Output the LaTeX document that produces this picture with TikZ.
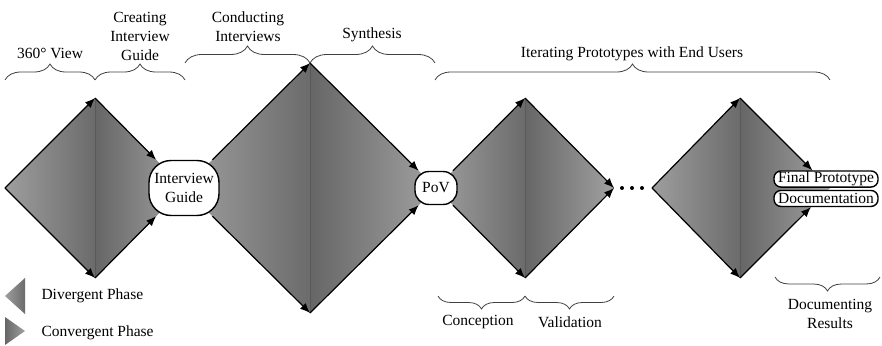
\documentclass[tikz,border=0pt]{standalone}
\usepackage{fontspec}
\setmainfont{Liberation Serif}
\usepackage{tikz}
\usetikzlibrary{
  positioning, arrows.meta, decorations.pathreplacing, shapes.misc
}
\tikzset{
	flow/.style={line width=1.2pt, -{Latex[length=10pt,width=8pt]}}
}
\tikzset{
	divshade/.style={left color=black!38, right color=black!58}
}
\tikzset{
	convshade/.style={left color=black!60, right color=black!37}
}
\tikzset{
	bubble/.style={draw, line width=1.4pt, fill=white, rounded corners=#1, inner sep=1pt, align=center},
	bubble/.default=7pt
}
\tikzset{
	curly/.style={decorate, decoration={brace, amplitude=#1}, line width=0.8pt, draw=black!75}
}

\begin{document}
\begin{tikzpicture}[x=1pt, y=-1pt, font=\fontsize{15.5}{19}\selectfont]
      \useasboundingbox (0,0) rectangle (882,345);
      % diamonds: left x / middle x / right x / half height
      \foreach \l/\m/\r/\h [count=\i] in {5/95/184/90, 184/310/436/125, 436/525/614/90, 652/740/830/90} {
        \shade[divshade] (\l,188) -- (\m,188-\h) -- (\m,188+\h) -- cycle;
        \shade[convshade] (\m,188-\h) -- (\r,188) -- (\m,188+\h) -- cycle;
        \draw[black!65, line width=0.7pt] (\m,188-\h) -- (\m,188+\h);
        \coordinate (l\i) at (\l,188);
        \coordinate (t\i) at (\m,188-\h);
        \coordinate (b\i) at (\m,188+\h);
        \coordinate (r\i) at (\r,188);
      }
      % outcome nodes
      \node[bubble=22pt, minimum width=70pt, minimum height=55pt] (ig) at (l2) {Interview\\Guide};
      \node[bubble=14pt, minimum width=42pt, minimum height=33pt] (pov) at (l3) {PoV};
      \node[bubble, inner xsep=3pt, minimum width=104pt, minimum height=16pt] (fp) at (826,179) {Final Prototype};
      \node[bubble, inner xsep=3pt, minimum width=104pt, minimum height=16pt, below=2pt of fp] (doc) {Documentation};
      % where the last diamond meets the two result boxes
      \coordinate (fpin) at (intersection of t4--r4 and fp.north west--fp.north east);
      \coordinate (docin) at (intersection of b4--r4 and doc.south west--doc.south east);
      % phase arrows
      \draw[flow] (l1) -- (t1);
      \draw[flow] (l1) -- (b1);
      \draw[flow] (t1) -- (ig);
      \draw[flow] (b1) -- (ig);
      \draw[flow] (ig) -- (t2);
      \draw[flow] (ig) -- (b2);
      \draw[flow] (t2) -- (pov);
      \draw[flow] (b2) -- (pov);
      \draw[flow] (pov) -- (t3);
      \draw[flow] (pov) -- (b3);
      \draw[flow] (t3) -- (r3);
      \draw[flow] (b3) -- (r3);
      \draw[flow] (l4) -- (t4);
      \draw[flow] (l4) -- (b4);
      \draw[flow] (t4) -- (fpin);
      \draw[flow] (b4) -- (docin);
      \foreach \x in {622,632,642}
        \fill (\x,188) circle (2pt);
      % braces and labels
      \draw[curly=16pt] (5,80) -- (95,80);
      \draw[curly=16pt] (95,80) -- (185,80);
      \draw[curly=17pt] (185,63) -- (310,63);
      \draw[curly=17pt] (310,63) -- (435,63);
      \draw[curly=16pt] (435,80) -- (830,80);
      \draw[curly=13pt] (525,296) -- (438,296);
      \draw[curly=13pt] (614,296) -- (525,296);
      \draw[curly=14pt] (880,277) -- (775,277);
      \node (lview) at (50,53) {360° View};
      \node[align=center] (lguide) at (140,36) {Creating\\Interview\\Guide};
      \node[align=center] (lconduct) at (248,27) {Conducting\\Interviews};
      \node (lsynth) at (372,35) {Synthesis};
      \node (liter) at (632,54) {Iterating Prototypes with End Users};
      \node (lconc) at (478,322) {Conception};
      \node (lvalid) at (570,322) {Validation};
      \node[align=center] (ldoc) at (830,314) {Documenting\\Results};
      % legend
      \shade[divshade] (5,296) -- (25,278) -- (25,314) -- cycle;
      \shade[convshade] (5,317) -- (25,331) -- (5,345) -- cycle;
      \node[right] (ldiv) at (38,296) {Divergent Phase};
      \node[right] (lconv) at (38,333) {Convergent Phase};
    \end{tikzpicture}
\end{document}
